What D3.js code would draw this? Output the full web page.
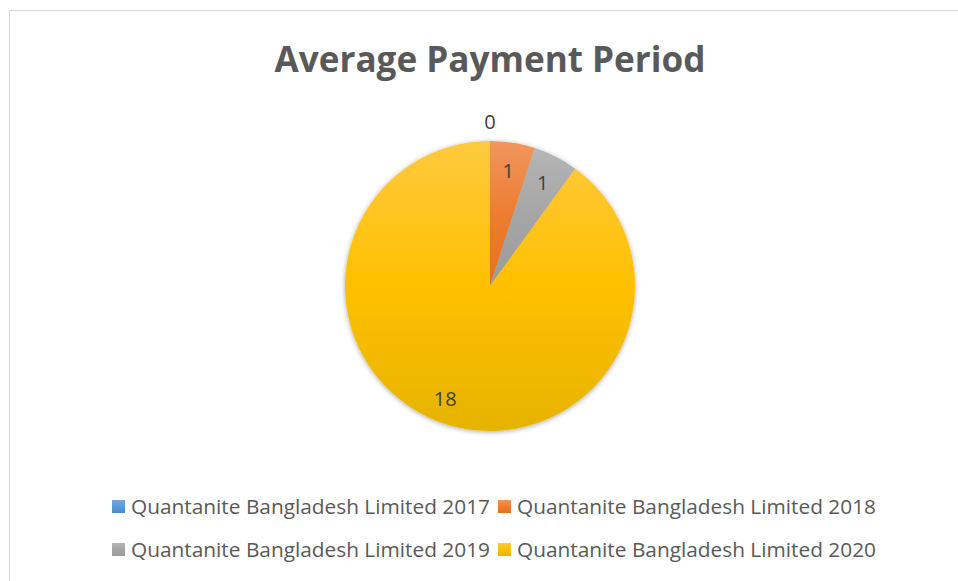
<!DOCTYPE html>
<html><head><meta charset="utf-8">
<script src="https://cdn.jsdelivr.net/npm/d3@7"></script>
<style>body{margin:0;background:#fff;}svg{display:block;}</style>
</head><body>
<script>
const categories = ["Quantanite Bangladesh Limited 2017","Quantanite Bangladesh Limited 2018","Quantanite Bangladesh Limited 2019","Quantanite Bangladesh Limited 2020"];
const values = [0, 1, 1, 18];
const labels = ["0","1","1","18"];
const title = "Average Payment Period";
const colorsTop = ["#72a8de","#f1965f","#b5b5b5","#ffc940"];
const colorsMid = ["#5b9bd5","#ed7d31","#a5a5a5","#ffc000"];
const colorsBottom = ["#4a86c8","#e86f1f","#9b9b9b","#e6b300"];

const W=958,H=581;
const svg=d3.select("body").append("svg").attr("width",W).attr("height",H);
const defs=svg.append("defs");
categories.forEach((c,i)=>{
  const g=defs.append("linearGradient").attr("id","g"+i).attr("x1",0).attr("y1",0).attr("x2",0).attr("y2",1);
  g.append("stop").attr("offset","0%").attr("stop-color",colorsTop[i]);
  g.append("stop").attr("offset","50%").attr("stop-color",colorsMid[i]);
  g.append("stop").attr("offset","100%").attr("stop-color",colorsBottom[i]);
});
const f=defs.append("filter").attr("id","sh").attr("x","-20%").attr("y","-20%").attr("width","140%").attr("height","140%");
f.append("feGaussianBlur").attr("in","SourceAlpha").attr("stdDeviation",2.5).attr("result","b");
f.append("feOffset").attr("in","b").attr("dx",0).attr("dy",1).attr("result","o");
f.append("feComponentTransfer").attr("in","o").attr("result","oc").append("feFuncA").attr("type","linear").attr("slope",0.35);
const fm=f.append("feMerge"); fm.append("feMergeNode").attr("in","oc"); fm.append("feMergeNode").attr("in","SourceGraphic");

svg.append("rect").attr("x",9.5).attr("y",10.5).attr("width",W).attr("height",H).attr("fill","#fff").attr("stroke","#d9d9d9").attr("stroke-width",1.2);

const t=svg.append("text").attr("x",490).attr("y",72).attr("text-anchor","middle")
 .attr("font-family","'Open Sans', sans-serif").attr("font-weight","bold").attr("font-size",36).attr("fill","#595959").text(title);
const tw=t.node().getComputedTextLength(); t.attr("font-size",36*431/tw);

const cx=490, cy=286, R=145;
const pie=d3.pie().sort(null).value(d=>d)(values);
const arc=d3.arc().innerRadius(0).outerRadius(R);
const g=svg.append("g").attr("transform",`translate(${cx},${cy})`);
g.append("g").attr("filter","url(#sh)").selectAll("path").data(pie).join("path")
 .attr("d",arc).attr("fill",(d,i)=>`url(#g${i})`);

const lblArc=d3.arc().innerRadius(R*0.8).outerRadius(R*0.8);
const bigArc=d3.arc().innerRadius(R*0.82).outerRadius(R*0.82);
const outArc=d3.arc().innerRadius(R+19).outerRadius(R+19);
g.selectAll("text.l").data(pie).join("text").attr("class","l")
 .attr("transform",(d)=>{const p=(d.value===0?outArc:(d.endAngle-d.startAngle>Math.PI?bigArc:lblArc)).centroid(d);
   if(d.endAngle-d.startAngle>Math.PI)p[0]-=8;return `translate(${p[0]},${p[1]})`;})
 .attr("text-anchor","middle").attr("dy","0.35em")
 .attr("font-family","'Open Sans', sans-serif").attr("font-size",20).attr("fill","#404040")
 .text((d,i)=>labels[i]);

const legX=[112,498], legY=[507,550];
const lg=svg.append("g");
categories.forEach((c,i)=>{
  const x=legX[i%2], y=legY[Math.floor(i/2)];
  lg.append("rect").attr("x",x).attr("y",y-7).attr("width",13).attr("height",13).attr("fill",`url(#g${i})`);
  const tt=lg.append("text").attr("x",x+19).attr("y",y).attr("dy","0.35em")
   .attr("font-family","'Open Sans', sans-serif").attr("font-size",19).attr("fill","#595959").text(c);
  const w=tt.node().getComputedTextLength(); tt.attr("font-size",19*359/w);
});
</script>
</body></html>
